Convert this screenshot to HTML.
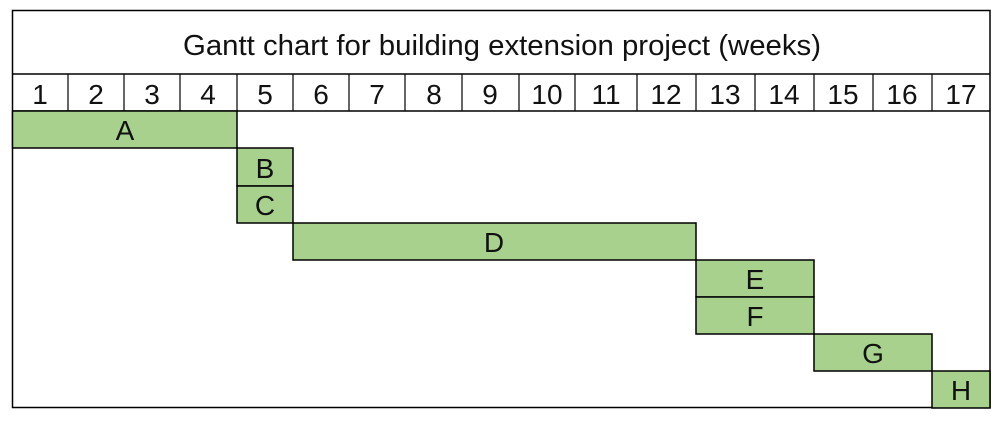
<!DOCTYPE html>
<html><head><style>
body{margin:0;background:#fff;width:1004px;height:420px;overflow:hidden}
svg text{font-family:"Liberation Sans",Arial,sans-serif;fill:#111}
</style></head><body>
<svg width="1004" height="420" xmlns="http://www.w3.org/2000/svg">
<rect x="12.5" y="10.5" width="977.5" height="397" fill="#fff" stroke="#000" stroke-width="1.5"/>
<line x1="12" y1="74" x2="990" y2="74" stroke="#000" stroke-width="1.5"/>
<line x1="12" y1="111" x2="990" y2="111" stroke="#000" stroke-width="1.5"/>
<text x="502" y="55" font-size="29" text-anchor="middle" textLength="638" lengthAdjust="spacingAndGlyphs">Gantt chart for building extension project (weeks)</text>
<g stroke="#000" stroke-width="1.2">
<line x1="68" y1="74" x2="68" y2="111"/><line x1="124" y1="74" x2="124" y2="111"/><line x1="180" y1="74" x2="180" y2="111"/><line x1="237" y1="74" x2="237" y2="111"/><line x1="293" y1="74" x2="293" y2="111"/><line x1="349" y1="74" x2="349" y2="111"/><line x1="405" y1="74" x2="405" y2="111"/><line x1="462" y1="74" x2="462" y2="111"/><line x1="519" y1="74" x2="519" y2="111"/><line x1="575" y1="74" x2="575" y2="111"/><line x1="637" y1="74" x2="637" y2="111"/><line x1="696" y1="74" x2="696" y2="111"/><line x1="755" y1="74" x2="755" y2="111"/><line x1="814" y1="74" x2="814" y2="111"/><line x1="873" y1="74" x2="873" y2="111"/><line x1="932" y1="74" x2="932" y2="111"/>
</g>
<g font-size="28" text-anchor="middle">
<text x="40" y="104">1</text><text x="96" y="104">2</text><text x="152" y="104">3</text><text x="208" y="104">4</text><text x="265" y="104">5</text><text x="321" y="104">6</text><text x="377" y="104">7</text><text x="434" y="104">8</text><text x="490" y="104">9</text><text x="547" y="104">10</text><text x="606" y="104">11</text><text x="666" y="104">12</text><text x="725" y="104">13</text><text x="784" y="104">14</text><text x="843" y="104">15</text><text x="902" y="104">16</text><text x="961" y="104">17</text>
</g>
<g fill="#a9d18e" stroke="#000" stroke-width="1.5">
<rect x="12.5" y="111" width="224.5" height="37"/>
<rect x="237" y="148" width="56" height="38"/>
<rect x="237" y="186" width="56" height="37"/>
<rect x="293" y="223" width="403" height="37"/>
<rect x="696" y="260" width="118" height="37"/>
<rect x="696" y="297" width="118" height="37"/>
<rect x="814" y="334" width="118" height="37"/>
<rect x="932" y="371" width="58" height="37"/>
</g>
<g font-size="28" text-anchor="middle">
<text x="125" y="140">A</text><text x="265" y="178">B</text><text x="265" y="215">C</text><text x="494" y="252">D</text><text x="755" y="289">E</text><text x="755" y="326">F</text><text x="873" y="363">G</text><text x="961" y="400">H</text>
</g>
</svg>
</body></html>
